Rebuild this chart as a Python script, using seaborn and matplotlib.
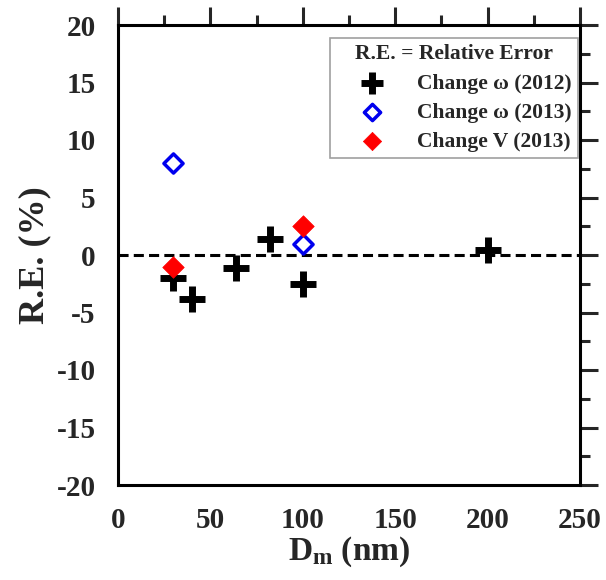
import numpy as np
import pandas as pd
import matplotlib
matplotlib.use("Agg")
import matplotlib.pyplot as plt
from matplotlib.ticker import MultipleLocator
import seaborn as sns

# Data
x_w2012 = [30, 40, 64, 82, 100, 200]
y_w2012 = [-2.0, -3.85, -1.15, 1.4, -2.5, 0.4]
x_w2013 = [30, 100]
y_w2013 = [8.0, 1.0]
x_v2013 = [30, 100]
y_v2013 = [-1.0, 2.5]
labels = ["Change \u03c9 (2012)", "Change \u03c9 (2013)", "Change V (2013)"]
x_ticks = [0, 50, 100, 150, 200, 250]
y_ticks = [-20, -15, -10, -5, 0, 5, 10, 15, 20]

sns.set_style("white")
plt.rcParams['font.family'] = ['Liberation Serif', 'DejaVu Serif']
plt.rcParams['font.weight'] = 'bold'
plt.rcParams['axes.unicode_minus'] = False
plt.rcParams['mathtext.fontset'] = 'custom'
plt.rcParams['mathtext.rm'] = 'Liberation Serif:bold'
plt.rcParams['mathtext.it'] = 'Liberation Serif:bold'
plt.rcParams['mathtext.bf'] = 'Liberation Serif:bold'

fig = plt.figure(figsize=(6.06, 5.8), dpi=100)
ax = fig.add_axes([118/606, 1 - 485/580, 462/606, 460/580])

df1 = pd.DataFrame({"x": x_w2012, "y": y_w2012})
df2 = pd.DataFrame({"x": x_w2013, "y": y_w2013})
df3 = pd.DataFrame({"x": x_v2013, "y": y_v2013})

ax.axhline(0, color='black', linestyle=(0, (3.3, 1.7)), linewidth=2.2, zorder=1)

sns.scatterplot(data=df1, x="x", y="y", ax=ax, marker='+', s=330, color='black',
                linewidth=5, label=labels[0], zorder=3)
sns.scatterplot(data=df2, x="x", y="y", ax=ax, marker='D', s=95, facecolor='white',
                edgecolor='#0000ee', linewidth=2.5, label=labels[1], zorder=3)
sns.scatterplot(data=df3, x="x", y="y", ax=ax, marker='D', s=120, color='#ff0000',
                edgecolor='#ff0000', linewidth=0.5, label=labels[2], zorder=4)

ax.set_xlim(0, 250)
ax.set_ylim(-20, 20)
ax.set_xticks(x_ticks)
ax.set_yticks(y_ticks)
ax.xaxis.set_minor_locator(MultipleLocator(25))
ax.yaxis.set_minor_locator(MultipleLocator(2.5))
ax.tick_params(which='major', direction='out', length=13, width=2.2,
               top=True, right=True, labelsize=21, pad=3)
ax.tick_params(which='minor', direction='out', length=7, width=2.2,
               top=True, right=True)
for lab in ax.get_xticklabels() + ax.get_yticklabels():
    lab.set_fontweight('bold')
for sp in ax.spines.values():
    sp.set_linewidth(2.2)
    sp.set_color('black')

ax.set_xlabel(r"D$_{\mathrm{m}}$ (nm)", fontsize=24, fontweight='bold', labelpad=0)
ax.set_ylabel("R.E. (%)", fontsize=26, fontweight='bold', labelpad=4)

leg = ax.legend(loc='upper right', title="R.E. = Relative Error", fontsize=15.5,
                title_fontproperties={'weight': 'bold', 'size': 15.5},
                frameon=True, fancybox=False, edgecolor='#888888',
                borderpad=0.3, handlelength=3.3, handletextpad=0.45,
                labelspacing=0.42, borderaxespad=0,
                bbox_to_anchor=(0.9957, 0.9717), markerscale=0.85)
leg.get_frame().set_linewidth(1.2)
for t in leg.get_texts():
    t.set_fontweight('bold')

fig.savefig("out.png", dpi=100)
